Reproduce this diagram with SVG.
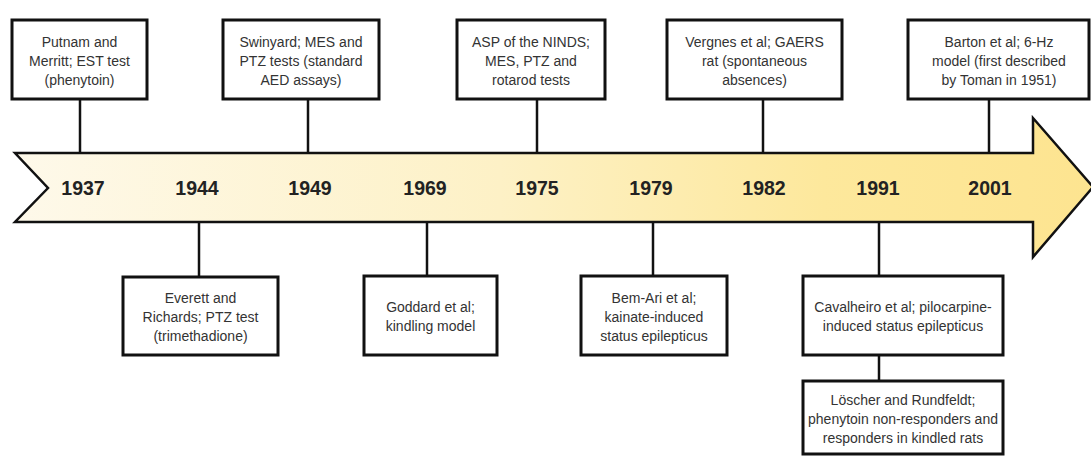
<svg xmlns="http://www.w3.org/2000/svg" width="1091" height="457" viewBox="0 0 1091 457">
<defs>
<linearGradient id="g" x1="0" y1="0" x2="1" y2="0">
<stop offset="0" stop-color="#fef9ea"/>
<stop offset="0.45" stop-color="#fdf1c6"/>
<stop offset="0.75" stop-color="#fde89c"/>
<stop offset="1" stop-color="#fde490"/>
</linearGradient>
<style>
.box{fill:#fff;stroke:#111;stroke-width:3}
.t{font-family:"Liberation Sans",Arial,sans-serif;font-size:14px;fill:#333;text-anchor:middle}
.y{font-family:"Liberation Sans",Arial,sans-serif;font-size:19.5px;font-weight:bold;fill:#222;text-anchor:middle}
.c{stroke:#111;stroke-width:2.5;fill:none}
</style>
</defs>
<rect width="1091" height="457" fill="#fff"/>
<g id="connectors">
<line class="c" x1="80" y1="99" x2="80" y2="153"/>
<line class="c" x1="308" y1="99" x2="308" y2="153"/>
<line class="c" x1="537" y1="99" x2="537" y2="153"/>
<line class="c" x1="763" y1="99" x2="763" y2="153"/>
<line class="c" x1="989" y1="99" x2="989" y2="153"/>
<line class="c" x1="199" y1="222" x2="199" y2="277"/>
<line class="c" x1="427" y1="222" x2="427" y2="276"/>
<line class="c" x1="653" y1="222" x2="653" y2="276"/>
<line class="c" x1="879" y1="222" x2="879" y2="276"/>
<line class="c" x1="879" y1="355" x2="879" y2="381"/>
</g>
<g id="timeline">
<polygon points="15,153 1033,153 1033,118 1093,187 1033,257 1033,222 15,222 48,188" fill="url(#g)" stroke="#111" stroke-width="2.5" stroke-linejoin="miter"/>
<text class="y" x="83" y="195">1937</text>
<text class="y" x="197" y="195">1944</text>
<text class="y" x="310" y="195">1949</text>
<text class="y" x="425" y="195">1969</text>
<text class="y" x="537" y="195">1975</text>
<text class="y" x="651" y="195">1979</text>
<text class="y" x="764" y="195">1982</text>
<text class="y" x="878" y="195">1991</text>
<text class="y" x="990" y="195">2001</text>
</g>
<g id="n1937">
<rect class="box" x="12" y="20" width="135" height="79"/>
<text class="t" x="79.5" y="47">Putnam and</text>
<text class="t" x="79.5" y="66">Merritt; EST test</text>
<text class="t" x="79.5" y="85">(phenytoin)</text>
</g>
<g id="n1949">
<rect class="box" x="223" y="20" width="156" height="79"/>
<text class="t" x="301" y="47">Swinyard; MES and</text>
<text class="t" x="301" y="66">PTZ tests (standard</text>
<text class="t" x="301" y="85">AED assays)</text>
</g>
<g id="n1975">
<rect class="box" x="457" y="20" width="148" height="79"/>
<text class="t" x="531" y="47">ASP of the NINDS;</text>
<text class="t" x="531" y="66">MES, PTZ and</text>
<text class="t" x="531" y="85">rotarod tests</text>
</g>
<g id="n1982">
<rect class="box" x="667" y="20" width="175" height="79"/>
<text class="t" x="754.5" y="47">Vergnes et al; GAERS</text>
<text class="t" x="754.5" y="66">rat (spontaneous</text>
<text class="t" x="754.5" y="85">absences)</text>
</g>
<g id="n2001">
<rect class="box" x="908" y="20" width="181" height="79"/>
<text class="t" x="999" y="47">Barton et al; 6-Hz</text>
<text class="t" x="999" y="66">model (first described</text>
<text class="t" x="999" y="85">by Toman in 1951)</text>
</g>
<g id="n1944">
<rect class="box" x="123" y="277" width="155" height="78"/>
<text class="t" x="200.5" y="303">Everett and</text>
<text class="t" x="200.5" y="322">Richards; PTZ test</text>
<text class="t" x="200.5" y="341">(trimethadione)</text>
</g>
<g id="n1969">
<rect class="box" x="364" y="276" width="133" height="79"/>
<text class="t" x="430.5" y="312">Goddard et al;</text>
<text class="t" x="430.5" y="331">kindling model</text>
</g>
<g id="n1979">
<rect class="box" x="581" y="276" width="146" height="79"/>
<text class="t" x="654" y="303">Bem-Ari et al;</text>
<text class="t" x="654" y="322">kainate-induced</text>
<text class="t" x="654" y="341">status epilepticus</text>
</g>
<g id="n1991">
<rect class="box" x="803" y="276" width="200" height="79"/>
<text class="t" x="903" y="312">Cavalheiro et al; pilocarpine-</text>
<text class="t" x="903" y="331">induced status epilepticus</text>
</g>
<g id="n1991b">
<rect class="box" x="803" y="381" width="200" height="73"/>
<text class="t" x="903" y="405">Löscher and Rundfeldt;</text>
<text class="t" x="903" y="424">phenytoin non-responders and</text>
<text class="t" x="903" y="443">responders in kindled rats</text>
</g>
</svg>
